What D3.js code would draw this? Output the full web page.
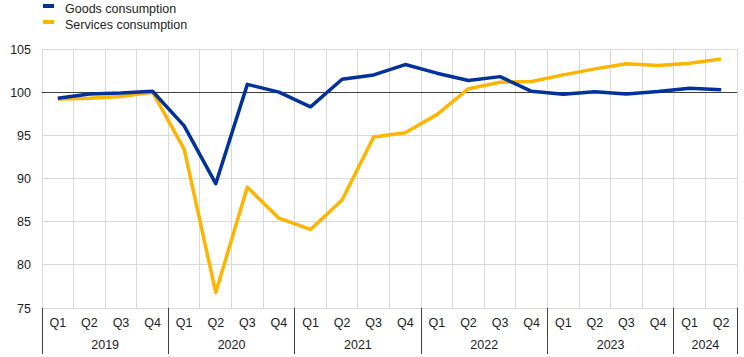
<!DOCTYPE html>
<html><head><meta charset="utf-8">
<script src="https://cdn.jsdelivr.net/npm/d3@7"></script>
<style>body{margin:0;background:#fff}svg{display:block;font-family:"Liberation Sans",Arial,sans-serif}</style>
</head><body><svg id="c" width="744" height="357"></svg>
<script>
const years = ["2019","2020","2021","2022","2023","2024"];
const quarters = ["Q1","Q2","Q3","Q4"];
const periods = [
 "2019Q1","2019Q2","2019Q3","2019Q4","2020Q1","2020Q2","2020Q3","2020Q4",
 "2021Q1","2021Q2","2021Q3","2021Q4","2022Q1","2022Q2","2022Q3","2022Q4",
 "2023Q1","2023Q2","2023Q3","2023Q4","2024Q1","2024Q2"];
const goods = [99.3,99.8,99.9,100.1,96.1,89.4,100.9,100.0,98.3,101.5,102.0,103.2,102.2,101.35,101.8,100.1,99.76,100.05,99.8,100.07,100.46,100.27];
const services = [99.2,99.3,99.5,100.0,93.4,76.8,89.0,85.4,84.1,87.5,94.8,95.3,97.4,100.4,101.15,101.23,102.0,102.7,103.28,103.08,103.35,103.85];
const yTicks = [75,80,85,90,95,100,105];
const seriesNames = ["Goods consumption","Services consumption"];
const colors = ["#003299","#FFB400"];

const svg = d3.select("#c");
const L=42, R=737, T=49, B=308;
const x = d3.scaleBand().domain(periods).range([L,R]);
const y = d3.scaleLinear().domain([75,105]).range([B,T]);

// horizontal grid
svg.append("g").selectAll("line").data(yTicks).join("line")
 .attr("x1",L).attr("x2",R).attr("y1",d=>y(d)).attr("y2",d=>y(d))
 .attr("stroke","#d9d9d9").attr("stroke-width",1).attr("shape-rendering","crispEdges");
// vertical grid
svg.append("g").selectAll("line").data(periods.concat(["end"])).join("line")
 .attr("x1",d=>d==="end"?R:x(d)).attr("x2",d=>d==="end"?R:x(d))
 .attr("y1",T).attr("y2",B)
 .attr("stroke","#d9d9d9").attr("stroke-width",1).attr("shape-rendering","crispEdges");
// 100 line
svg.append("line").attr("x1",L).attr("x2",R).attr("y1",y(100)).attr("y2",y(100))
 .attr("stroke","#404040").attr("stroke-width",1).attr("shape-rendering","crispEdges");

// y labels
svg.append("g").selectAll("text").data(yTicks).join("text")
 .attr("x",31).attr("y",d=>y(d)+4.5).attr("text-anchor","end")
 .attr("font-size",12.5).attr("fill","#222").text(d=>d);

// x quarter labels
svg.append("g").selectAll("text").data(periods).join("text")
 .attr("x",d=>x(d)+x.bandwidth()/2).attr("y",327).attr("text-anchor","middle")
 .attr("font-size",12.5).attr("fill","#222").text(d=>d.slice(4));
// year separators
const yearStart = years.map(yr=>x(yr+"Q1"));
svg.append("g").selectAll("line").data(yearStart.concat([R])).join("line")
 .attr("x1",d=>d).attr("x2",d=>d).attr("y1",B).attr("y2",354)
 .attr("stroke","#404040").attr("stroke-width",1).attr("shape-rendering","crispEdges");
// year labels
svg.append("g").selectAll("text").data(years).join("text")
 .attr("x",yr=>{const ps=periods.filter(p=>p.startsWith(yr));return (x(ps[0])+x(ps[ps.length-1])+x.bandwidth())/2;})
 .attr("y",349).attr("text-anchor","middle").attr("font-size",12.5).attr("fill","#222").text(d=>d);

// lines
const line = d3.line().x((d,i)=>x(periods[i])+x.bandwidth()/2).y(d=>y(d));
[services,goods].forEach((s,k)=>{
 const ci = k===0?1:0;
 svg.append("path").datum(s).attr("d",line).attr("fill","none")
  .attr("stroke",colors[ci]).attr("stroke-width",3.5).attr("stroke-linejoin","round");
});
// re-draw order: goods first then services? Services over goods in 2019; keep goods on top later
// legend
const lg = svg.append("g");
seriesNames.forEach((n,i)=>{
 lg.append("rect").attr("x",43).attr("y",4+i*16).attr("width",11).attr("height",4).attr("fill",colors[i]);
 lg.append("text").attr("x",65).attr("y",13+i*16).attr("font-size",12.5).attr("fill","#222").text(n);
});
</script></body></html>
